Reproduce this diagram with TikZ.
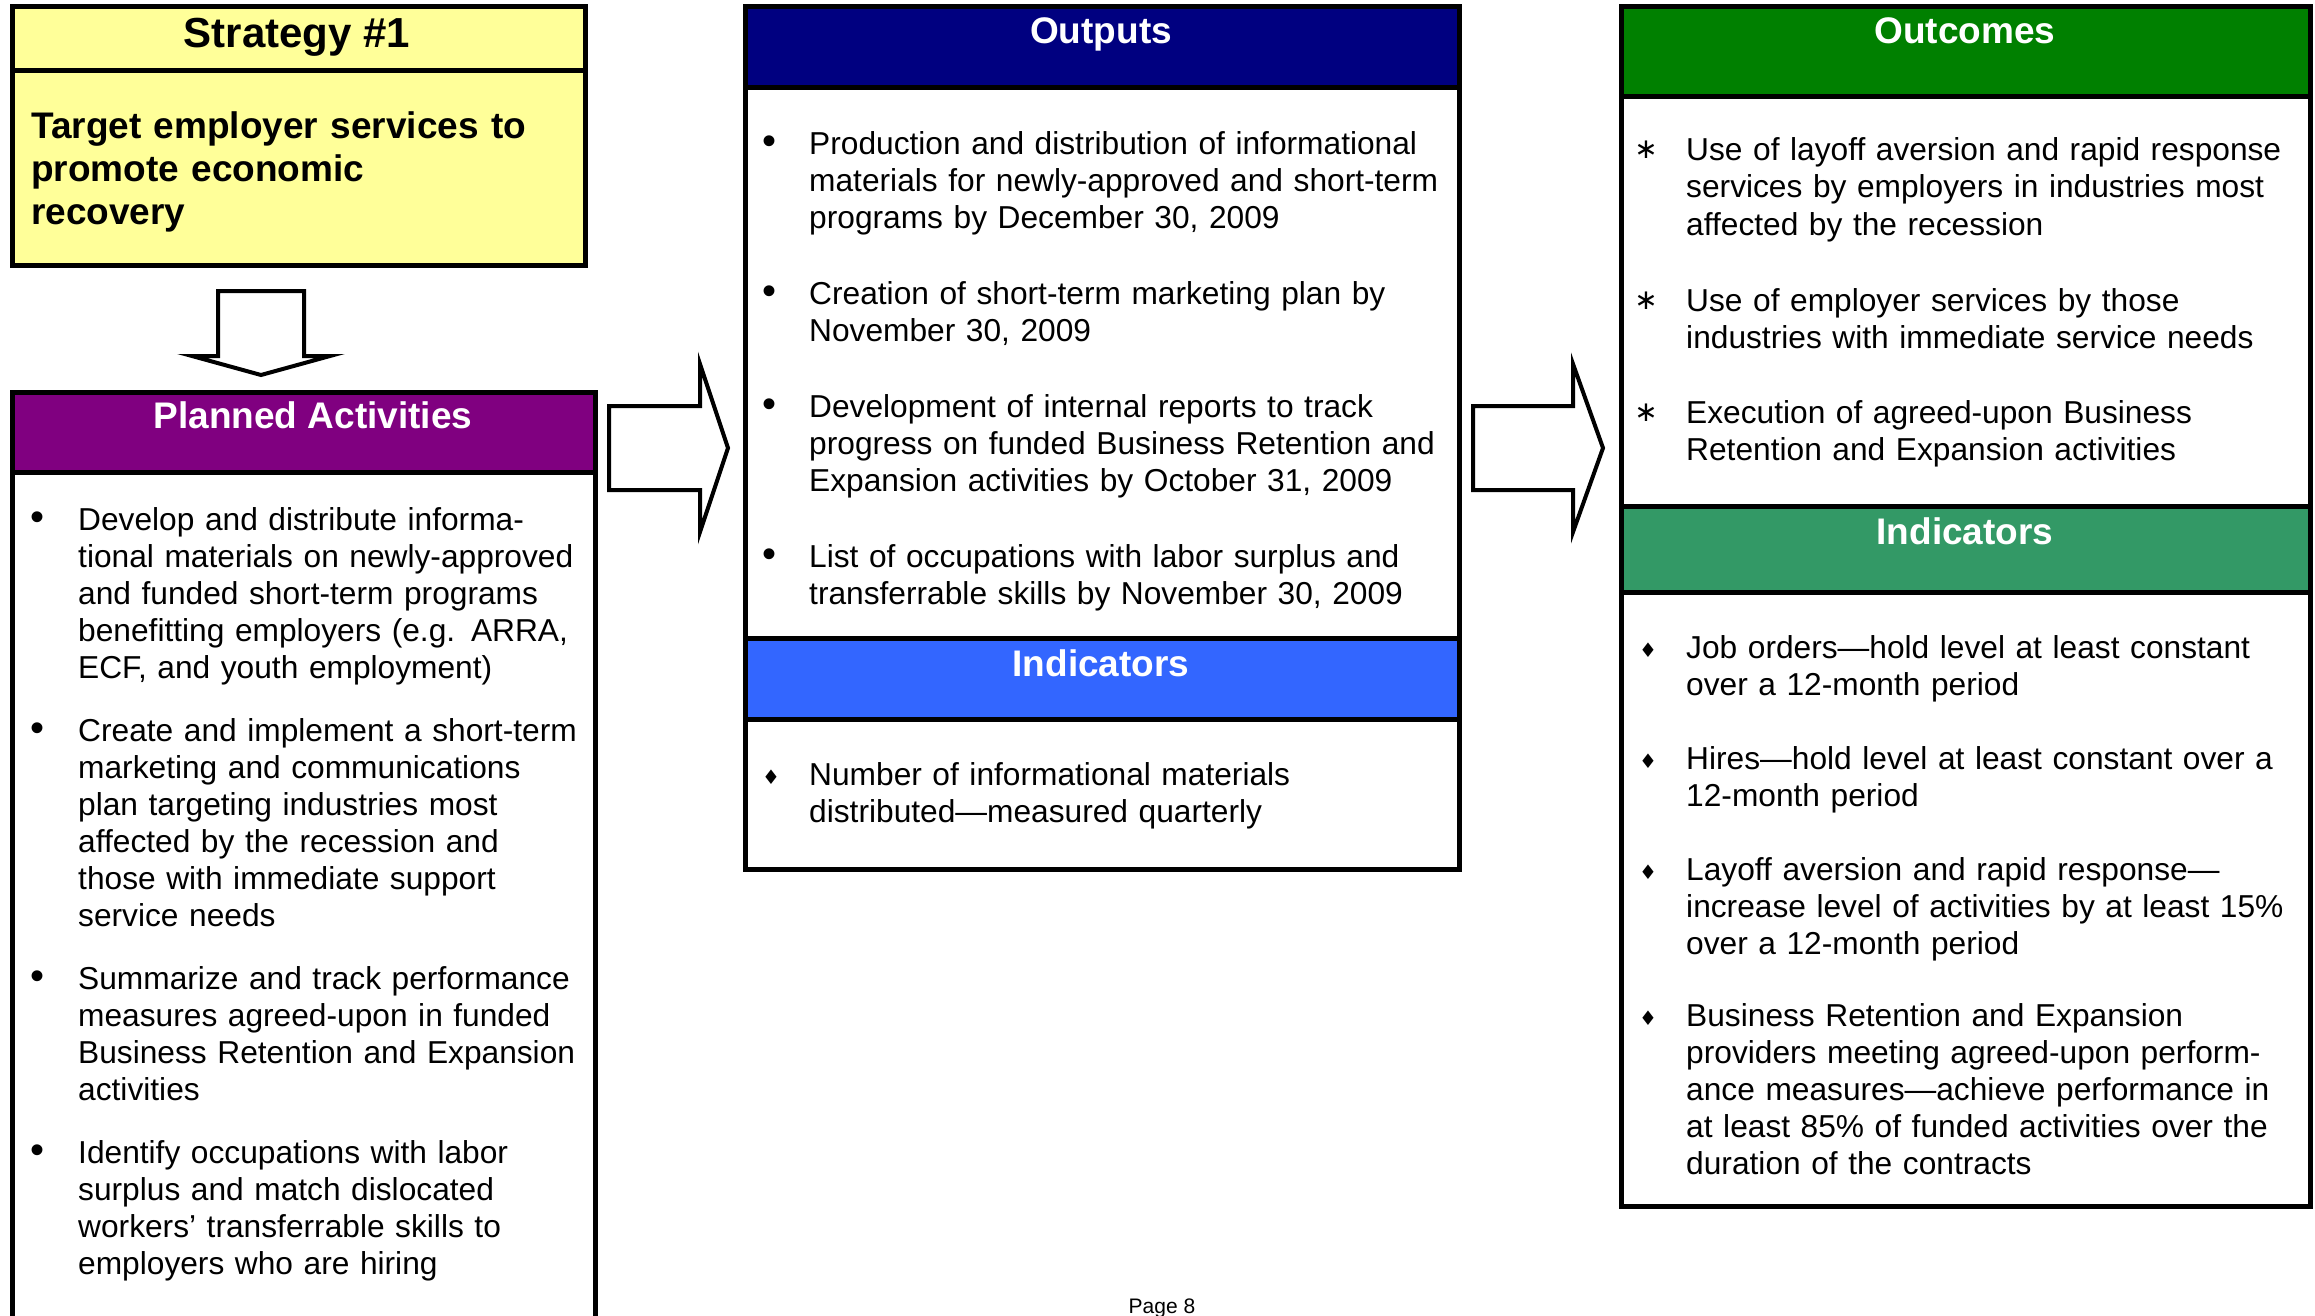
\documentclass[tikz,border=0pt]{standalone}
\usepackage{fontspec}
\setmainfont{Liberation Sans}
\newfontfamily\dejavu{DejaVu Sans}
\definecolor{navyhdr}{HTML}{000080}
\definecolor{bluehdr}{HTML}{3366FF}
\definecolor{greenhdr}{HTML}{008000}
\definecolor{seahdr}{HTML}{339966}
\definecolor{purplehdr}{HTML}{800080}
\definecolor{paleyellow}{HTML}{FFFF99}
\newcommand\bodyfnt{\fontsize{31.7}{37}\selectfont}
\newcommand\hdrfnt{\fontsize{37}{43}\selectfont\bfseries}
\newcommand\dmd{{\dejavu\fontsize{20}{20}\selectfont\raisebox{1pt}{♦}}}
\newcommand\astk{{\dejavu\fontsize{28}{28}\selectfont\raisebox{2pt}{∗}}}
\newcommand\bult{{\fontsize{40}{40}\selectfont\textbullet}}
\begin{document}
\begin{tikzpicture}[x=1pt,y=-1pt,
  frame/.style={draw=black,line width=5pt},
  hdr/.style={font=\hdrfnt,text=white,anchor=base,inner sep=0pt},
  item/.style={anchor=base west,inner sep=0pt,align=left,text width=720pt,font=\bodyfnt},
  bul/.style={anchor=base,inner sep=0pt,font=\bodyfnt},
  blockarrow/.style={draw=black,fill=white,line width=4pt,line join=miter}]
\useasboundingbox (0,0) rectangle (2315,1316);
\fill[white] (0,0) rectangle (2315,1316);

% ---------- Strategy box ----------
\fill[paleyellow] (12,7) rectangle (585,265);
\draw[frame] (12,7) rectangle (585,265);
\draw[frame] (12,71) -- (585,71);
\node[anchor=base,inner sep=0pt,font=\fontsize{42}{48}\selectfont\bfseries] (strat) at (297,48) {Strategy \#1};
\node[anchor=base west,inner sep=0pt,align=left,text width=540pt,font=\fontsize{37}{43}\selectfont\bfseries] (stratbody) at (31,139)
  {Target employer services to\\promote economic\\recovery};

% ---------- Planned Activities box ----------
\fill[purplehdr] (12,392) rectangle (595,472);
\draw[frame] (12,1345) -- (12,392) -- (595,392) -- (595,1345);
\draw[frame] (12,472) -- (595,472);
\node[hdr] (planhdr) at (313,428) {Planned Activities};

\node[bul] (pb1) at (38,530) {\bult};
\node[item] (pa1) at (78,530) {Develop and distribute informa-\\tional materials on newly-approved\\and funded short-term programs\\benefitting employers (e.g. ARRA,\\ECF, and youth employment)};
\node[bul] (pb2) at (38,741) {\bult};
\node[item] (pa2) at (78,741) {Create and implement a short-term\\marketing and communications\\plan targeting industries most\\affected by the recession and\\those with immediate support\\service needs};
\node[bul] (pb3) at (38,989) {\bult};
\node[item] (pa3) at (78,989) {Summarize and track performance\\measures agreed-upon in funded\\Business Retention and Expansion\\activities};
\node[bul] (pb4) at (38,1163) {\bult};
\node[item] (pa4) at (78,1163) {Identify occupations with labor\\surplus and match dislocated\\workers’ transferrable skills to\\employers who are hiring};

% ---------- Outputs box ----------
\fill[navyhdr] (745,7) rectangle (1459,88);
\fill[bluehdr] (745,638) rectangle (1459,719);
\draw[frame] (745,7) rectangle (1459,869);
\draw[frame] (745,88) -- (1459,88);
\draw[frame] (745,638) -- (1459,638);
\draw[frame] (745,719) -- (1459,719);
\node[hdr] (outhdr) at (1101,44) {Outputs};
\node[hdr] (outind) at (1101,676) {Indicators};

\node[bul] (ob1) at (769,155) {\bult};
\node[item] (oi1) at (809,155) {Production and distribution of informational\\materials for newly-approved and short-term\\programs by December 30, 2009};
\node[bul] (ob2) at (769,304) {\bult};
\node[item] (oi2) at (809,304) {Creation of short-term marketing plan by\\November 30, 2009};
\node[bul] (ob3) at (769,417) {\bult};
\node[item] (oi3) at (809,417) {Development of internal reports to track\\progress on funded Business Retention and\\Expansion activities by October 31, 2009};
\node[bul] (ob4) at (769,567) {\bult};
\node[item] (oi4) at (809,567) {List of occupations with labor surplus and\\transferrable skills by November 30, 2009};
\node[bul] (od1) at (771,785) {\dmd};
\node[item] (oind1) at (809,785) {Number of informational materials\\distributed—measured quarterly};

% ---------- Outcomes box ----------
\fill[greenhdr] (1621,7) rectangle (2310,97);
\fill[seahdr] (1621,506) rectangle (2310,592);
\draw[frame] (1621,7) rectangle (2310,1206);
\draw[frame] (1621,97) -- (2310,97);
\draw[frame] (1621,506) -- (2310,506);
\draw[frame] (1621,592) -- (2310,592);
\node[hdr] (ochdr) at (1965,44) {Outcomes};
\node[hdr] (ocind) at (1965,544) {Indicators};

\node[bul] (ca1) at (1646,161) {\astk};
\node[item] (co1) at (1686,161) {Use of layoff aversion and rapid response\\services by employers in industries most\\affected by the recession};
\node[bul] (ca2) at (1646,311) {\astk};
\node[item] (co2) at (1686,311) {Use of employer services by those\\industries with immediate service needs};
\node[bul] (ca3) at (1646,423) {\astk};
\node[item] (co3) at (1686,423) {Execution of agreed-upon Business\\Retention and Expansion activities};

\node[bul] (cd1) at (1648,658) {\dmd};
\node[item] (ci1) at (1686,658) {Job orders—hold level at least constant\\over a 12-month period};
\node[bul] (cd2) at (1648,769) {\dmd};
\node[item] (ci2) at (1686,769) {Hires—hold level at least constant over a\\12-month period};
\node[bul] (cd3) at (1648,880) {\dmd};
\node[item] (ci3) at (1686,880) {Layoff aversion and rapid response—\\increase level of activities by at least 15\%\\over a 12-month period};
\node[bul] (cd4) at (1648,1026) {\dmd};
\node[item] (ci4) at (1686,1026) {Business Retention and Expansion\\providers meeting agreed-upon perform-\\ance measures—achieve performance in\\at least 85\% of funded activities over the\\duration of the contracts};

% ---------- Block arrows ----------
\draw[blockarrow] (218,291) -- (304,291) -- (304,356) -- (330,356) -- (261,375) -- (192,356) -- (218,356) -- cycle;
\draw[blockarrow] (609,406) -- (700,406) -- (700,364) -- (728,448) -- (700,532) -- (700,490) -- (609,490) -- cycle;
\draw[blockarrow] (1473,406) -- (1573,406) -- (1573,364) -- (1603,448) -- (1573,532) -- (1573,490) -- (1473,490) -- cycle;

% ---------- Page number ----------
\node[anchor=base,inner sep=0pt,font=\fontsize{21}{24}\selectfont] (pagenum) at (1162,1313) {Page 8};
\end{tikzpicture}
\end{document}
